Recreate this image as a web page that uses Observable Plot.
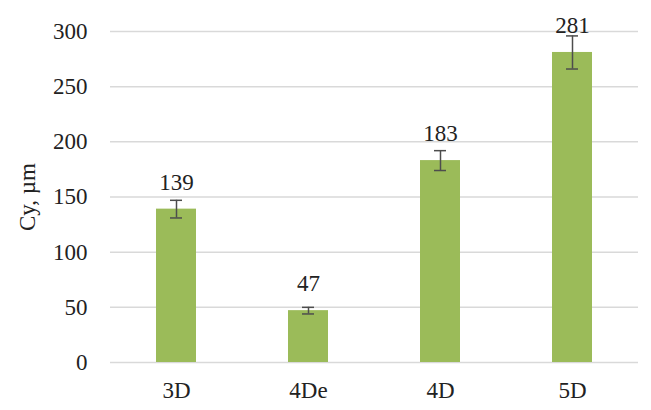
<!DOCTYPE html>
<html>
<head>
<meta charset="utf-8">
<script src="https://cdn.jsdelivr.net/npm/d3@7"></script>
<script src="https://cdn.jsdelivr.net/npm/@observablehq/plot@0.6"></script>
<style>
  html, body { margin: 0; padding: 0; background: #fff; }
  #chart svg { display: block; }
</style>
</head>
<body>
<div id="chart"></div>
<script>
const categories = ["3D", "4De", "4D", "5D"];
const values = [139, 47, 183, 281];
const errors = [8, 3, 9, 15];
const yTicks = [0, 50, 100, 150, 200, 250, 300];
const yLabel = "Cy, µm";

const data = categories.map((c, i) => ({cat: c, v: values[i], e: errors[i]}));

const font = "'Liberation Serif', 'Times New Roman', serif";
const ink = "#222222";
const fs = 23;

const chart = Plot.plot({
  width: 651,
  height: 410,
  marginLeft: 110,
  marginRight: 13,
  marginTop: 31,
  marginBottom: 48,
  style: {fontFamily: font, fontSize: fs + "px", color: ink, background: "#fff"},
  x: {domain: categories, paddingInner: 0.7, paddingOuter: 0.35, label: null},
  y: {domain: [0, 300], label: null},
  marks: [
    Plot.ruleY(yTicks, {stroke: "#d9d9d9", strokeWidth: 1.5}),
    Plot.barY(data, {x: "cat", y: "v", fill: "#9bbb59"}),
    Plot.ruleX(data, {x: "cat", y1: d => d.v - d.e, y2: d => d.v + d.e, stroke: "#4d4d4d", strokeWidth: 1.5}),
    Plot.tickY(data, {x: "cat", y: d => d.v - d.e, stroke: "#4d4d4d", strokeWidth: 1.5, insetLeft: 14, insetRight: 14}),
    Plot.tickY(data, {x: "cat", y: d => d.v + d.e, stroke: "#4d4d4d", strokeWidth: 1.5, insetLeft: 14, insetRight: 14}),
    Plot.text(data, {x: "cat", y: "v", text: d => String(d.v), dy: -27, fill: ink, fontSize: fs, lineAnchor: "middle"}),
    Plot.axisY({ticks: yTicks, tickSize: 0, tickPadding: 23, fontSize: fs, label: null}),
    Plot.axisX({tickSize: 0, tickPadding: 19, fontSize: fs, label: null}),
    Plot.text([yLabel], {frameAnchor: "left", rotate: -90, dx: -83, textAnchor: "middle", lineAnchor: "middle", fill: ink, fontSize: fs})
  ]
});

document.getElementById("chart").appendChild(chart);
</script>
</body>
</html>
